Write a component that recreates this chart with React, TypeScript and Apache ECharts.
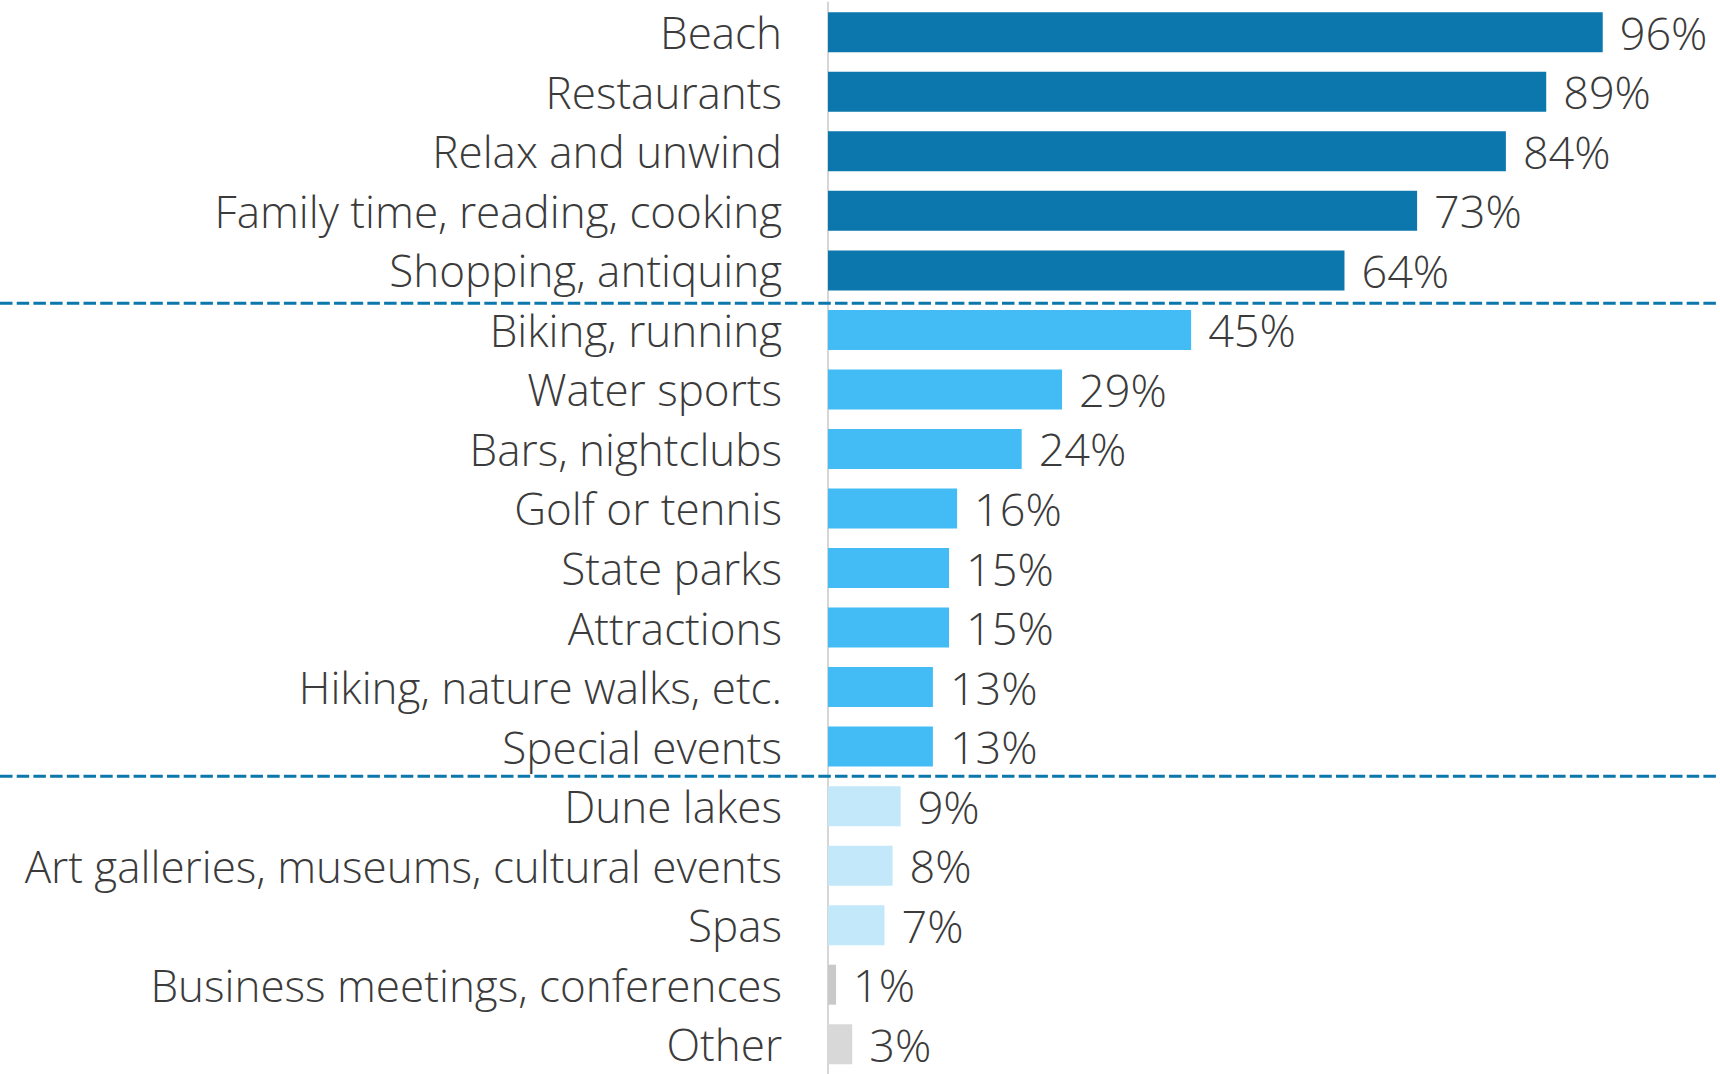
import React, { useEffect, useRef } from "react";
import * as echarts from "echarts";

const categories = [
  "Beach",
  "Restaurants",
  "Relax and unwind",
  "Family time, reading, cooking",
  "Shopping, antiquing",
  "Biking, running",
  "Water sports",
  "Bars, nightclubs",
  "Golf or tennis",
  "State parks",
  "Attractions",
  "Hiking, nature walks, etc.",
  "Special events",
  "Dune lakes",
  "Art galleries, museums, cultural events",
  "Spas",
  "Business meetings, conferences",
  "Other",
];

const values = [96, 89, 84, 73, 64, 45, 29, 24, 16, 15, 15, 13, 13, 9, 8, 7, 1, 3];

// tier of each category (0 = top, 1 = mid, 2 = low, 3 = business, 4 = other)
const tiers = [0, 0, 0, 0, 0, 1, 1, 1, 1, 1, 1, 1, 1, 2, 2, 2, 3, 4];

const palette = ["#0b77ad", "#43bcf6", "#c3e8fa", "#c9c9c9", "#d8d8d8"];

const FONT = "'Open Sans', Lato, sans-serif";
const TEXT = "#3b3b3b";

export default function App() {
  const ref = useRef<HTMLDivElement>(null);

  useEffect(() => {
    if (!ref.current) return;
    const chart = echarts.init(ref.current, null, { renderer: "svg" });
    chart.setOption({
      animation: false,
      grid: { left: 828, right: 85, top: 2.5, height: 1078 },
      xAxis: {
        type: "value",
        min: 0,
        max: 100,
        show: false,
      },
      yAxis: {
        type: "category",
        inverse: true,
        data: categories,
        axisLine: { show: true, lineStyle: { color: "#d6d6d6", width: 2 } },
        axisTick: { show: false },
        axisLabel: {
          fontFamily: FONT,
          fontSize: 44,
          fontWeight: 300,
          color: TEXT,
          margin: 46,
        },
        splitLine: { show: false },
      },
      series: [
        {
          type: "bar",
          barWidth: 40,
          data: values.map((v, i) => ({
            value: v,
            itemStyle: { color: palette[tiers[i]] },
          })),
          label: {
            show: true,
            position: "right",
            distance: 17,
            formatter: "{c}%",
            fontFamily: FONT,
            fontSize: 45,
            fontWeight: 300,
            color: TEXT,
          },
        },
      ],
    });

    const y4 = chart.convertToPixel({ yAxisIndex: 0 }, categories[4]) as number;
    const y5 = chart.convertToPixel({ yAxisIndex: 0 }, categories[5]) as number;
    const y12 = chart.convertToPixel({ yAxisIndex: 0 }, categories[12]) as number;
    const y13 = chart.convertToPixel({ yAxisIndex: 0 }, categories[13]) as number;
    const d1 = (y4 + y5) / 2 + 3;
    const d2 = (y12 + y13) / 2;
    const dashStyle = {
      stroke: "#0b77ad",
      lineWidth: 3,
      lineDash: [12.5, 4.2],
    };
    chart.setOption({
      graphic: [
        { type: "line", shape: { x1: 0, y1: d1, x2: 1720, y2: d1 }, style: dashStyle, z: 100 },
        { type: "line", shape: { x1: 0, y1: d2, x2: 1720, y2: d2 }, style: dashStyle, z: 100 },
      ],
    });

    return () => chart.dispose();
  }, []);

  return (
    <div
      ref={ref}
      style={{ position: "absolute", left: 0, top: 0, width: 1720, height: 1074, background: "#fff" }}
    />
  );
}
